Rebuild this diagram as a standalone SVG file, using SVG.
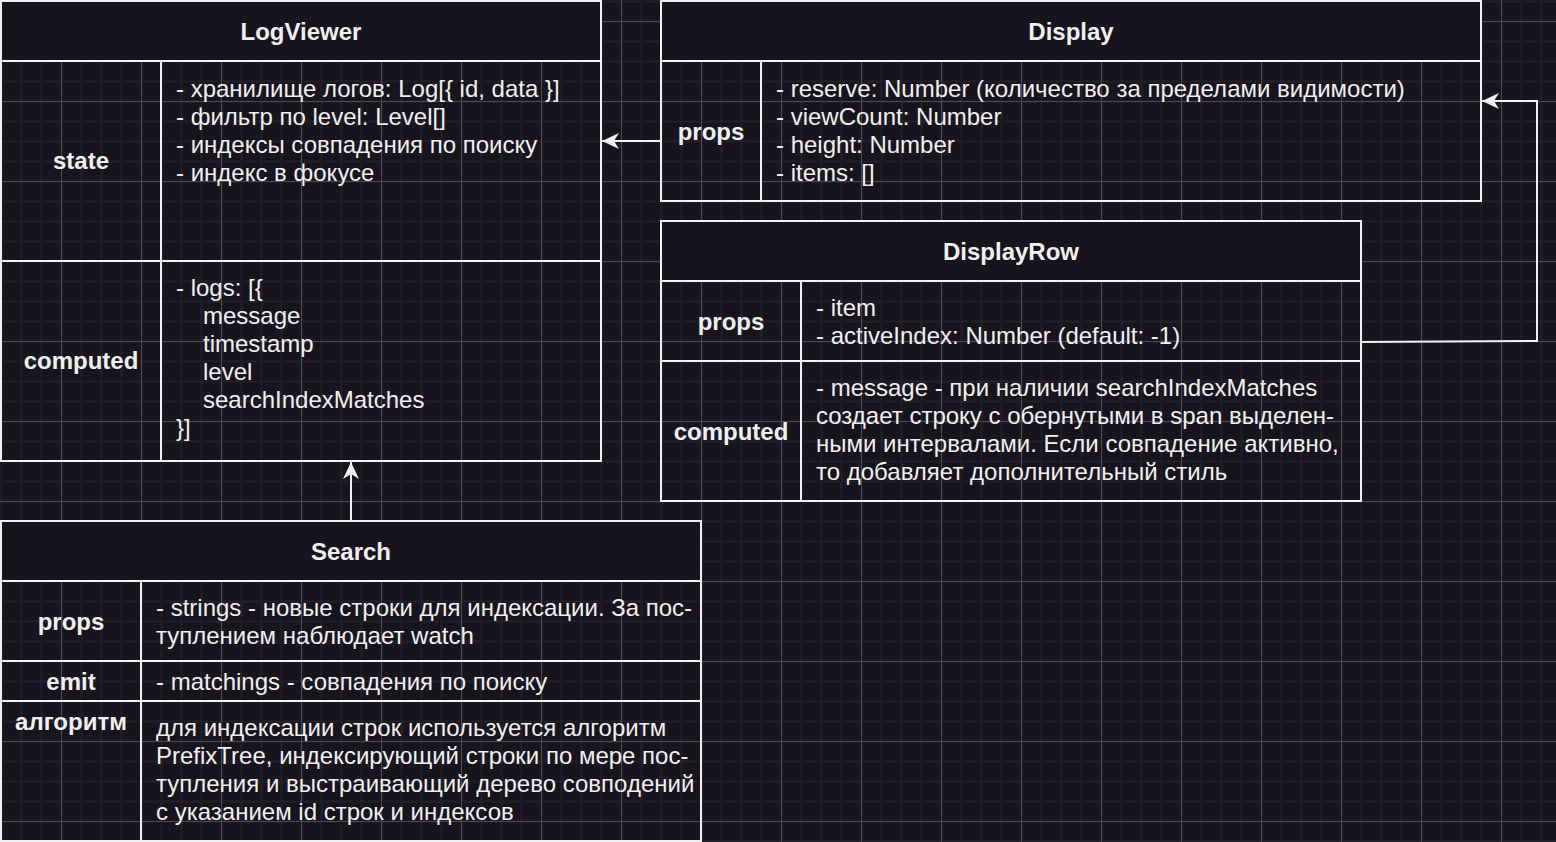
<svg xmlns="http://www.w3.org/2000/svg" width="1556" height="842" viewBox="0 0 1556 842">
<defs>
<pattern id="minor" x="0" y="0" width="20" height="20" patternUnits="userSpaceOnUse">
<rect width="20" height="20" fill="#18141d"/>
<path d="M0,1.5 H20 M1.5,0 V20" stroke="#221f28" stroke-width="2"/>
</pattern>
<pattern id="major" x="0" y="0" width="80" height="80" patternUnits="userSpaceOnUse">
<path d="M0,21.5 H80 M61.5,0 V80" stroke="#4a4850" stroke-width="1"/>
</pattern>
<marker id="arr" markerUnits="userSpaceOnUse" markerWidth="20" markerHeight="20" viewBox="-18 -10 20 20" refX="0" refY="0" orient="auto">
<path d="M0,0 L-17,-8 L-12,0 L-17,8 Z" fill="#f0f0f0"/>
</marker>
</defs>
<style>
.box{fill:none;stroke:#f0f0f0;stroke-width:2}
.hdr{fill:#18141d;stroke:#f0f0f0;stroke-width:2}
.ln{fill:none;stroke:#f0f0f0;stroke-width:2}
text{font-family:"Liberation Sans",Arial,sans-serif;font-size:24px;fill:#f0f0f0}
.t{font-weight:bold;text-anchor:middle}
.l{font-weight:bold;text-anchor:middle}
.c{stroke:#f0f0f0;stroke-width:2;fill:none}
</style>
<rect width="1556" height="842" fill="url(#minor)"/>
<rect width="1556" height="842" fill="url(#major)"/>

<g id="connectors">
<path class="c" d="M661,141 H602" marker-end="url(#arr)"/>
<path class="c" d="M1361,342 L1537,341 V101 H1482" marker-end="url(#arr)"/>
<path class="c" d="M351,521 V462" marker-end="url(#arr)"/>
</g>

<g id="logviewer">
<rect class="hdr" x="1" y="1" width="600" height="60"/>
<text class="t" x="301" y="40">LogViewer</text>
<rect class="box" x="1" y="61" width="600" height="400"/>
<path class="ln" d="M161,61 V461 M1,261 H601"/>
<text class="l" x="81" y="169">state</text>
<text class="l" x="81" y="369">computed</text>
<text x="176" y="97">- хранилище логов: Log[{ id, data }]</text>
<text x="176" y="125">- фильтр по level: Level[]</text>
<text x="176" y="153">- индексы совпадения по поиску</text>
<text x="176" y="181">- индекс в фокусе</text>
<text x="176" y="296">- logs: [{</text>
<text x="203" y="324">message</text>
<text x="203" y="352">timestamp</text>
<text x="203" y="380">level</text>
<text x="203" y="408">searchIndexMatches</text>
<text x="176" y="436">}]</text>
</g>

<g id="display">
<rect class="hdr" x="661" y="1" width="820" height="60"/>
<text class="t" x="1071" y="40">Display</text>
<rect class="box" x="661" y="61" width="820" height="140"/>
<path class="ln" d="M761,61 V201"/>
<text class="l" x="711" y="140">props</text>
<text x="776" y="97">- reserve: Number (количество за пределами видимости)</text>
<text x="776" y="125">- viewCount: Number</text>
<text x="776" y="153">- height: Number</text>
<text x="776" y="181">- items: []</text>
</g>

<g id="displayrow">
<rect class="hdr" x="661" y="221" width="700" height="60"/>
<text class="t" x="1011" y="260">DisplayRow</text>
<rect class="box" x="661" y="281" width="700" height="220"/>
<path class="ln" d="M801,281 V501 M661,361 H1361"/>
<text class="l" x="731" y="330">props</text>
<text class="l" x="731" y="440">computed</text>
<text x="816" y="316">- item</text>
<text x="816" y="344">- activeIndex: Number (default: -1)</text>
<text x="816" y="396">- message - при наличии searchIndexMatches</text>
<text x="816" y="424">создает строку с обернутыми в span выделен-</text>
<text x="816" y="452">ными интервалами. Если совпадение активно,</text>
<text x="816" y="480">то добавляет дополнительный стиль</text>
</g>

<g id="search">
<rect class="hdr" x="1" y="521" width="700" height="60"/>
<text class="t" x="351" y="560">Search</text>
<rect class="box" x="1" y="581" width="700" height="260"/>
<path class="ln" d="M141,581 V841 M1,661 H701 M1,701 H701"/>
<text class="l" x="71" y="630">props</text>
<text class="l" x="71" y="690">emit</text>
<text class="l" x="71" y="730">алгоритм</text>
<text x="156" y="616">- strings - новые строки для индексации. За пос-</text>
<text x="156" y="644">туплением наблюдает watch</text>
<text x="156" y="690">- matchings - совпадения по поиску</text>
<text x="156" y="736">для индексации строк используется алгоритм</text>
<text x="156" y="764">PrefixTree, индексирующий строки по мере пос-</text>
<text x="156" y="792">тупления и выстраивающий дерево совподений</text>
<text x="156" y="820">с указанием id строк и индексов</text>
</g>
</svg>
